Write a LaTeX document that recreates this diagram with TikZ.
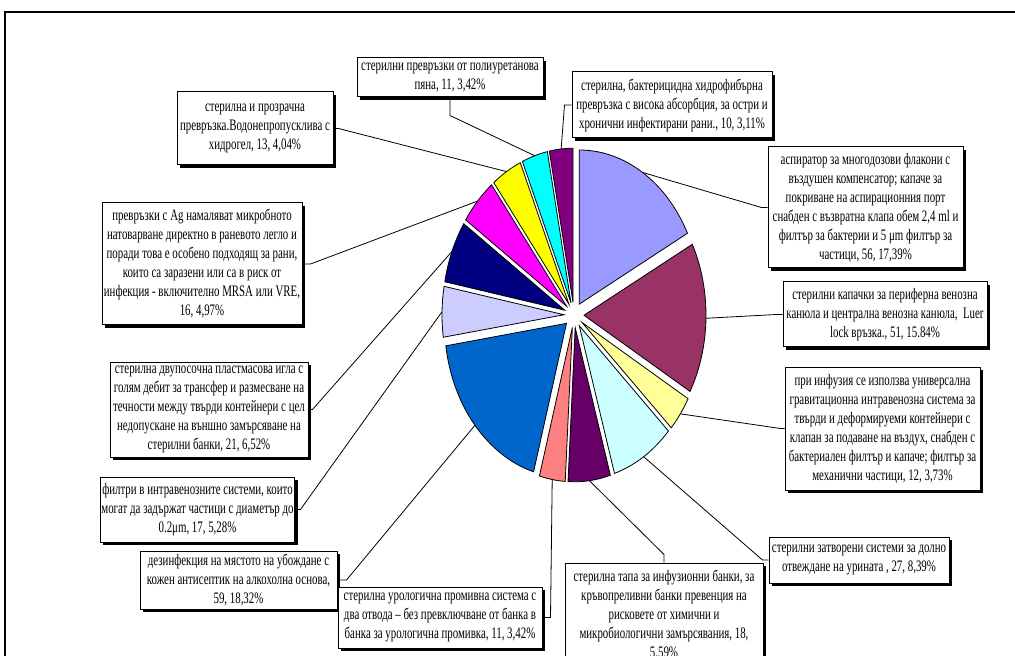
\documentclass[tikz,border=0pt]{standalone}
\usepackage{fontspec}
\newfontfamily\chartfont{Liberation Serif}[FakeStretch=0.68]
\usetikzlibrary{calc,shadows}

\definecolor{lilac}{HTML}{9999FF}
\definecolor{wine}{HTML}{993366}
\definecolor{cream}{HTML}{FFFF99}
\definecolor{ice}{HTML}{CCFFFF}
\definecolor{grape}{HTML}{660066}
\definecolor{salmon}{HTML}{FF8080}
\definecolor{ocean}{HTML}{0066CC}
\definecolor{pale}{HTML}{CCCCFF}
\definecolor{navyblue}{HTML}{000080}
\definecolor{pink}{HTML}{FF00FF}
\definecolor{lemon}{HTML}{FFFF00}
\definecolor{aqua}{HTML}{00FFFF}
\definecolor{plum}{HTML}{800080}

\newcommand{\drawslice}[4]{ % start angle, end angle, fill colour, id
  \pgfmathsetmacro{\midang}{(#1+#2)/2}
  \begin{scope}[shift={(\midang:10)}]
    \draw[slice, fill=#3] (0,0) -- (#1:122) arc[start angle=#1, end angle=#2, radius=122] -- cycle;
    % rim point where the leader line ends
    \coordinate (#4) at (\midang:122);
  \end{scope}
}

\newcommand{\drawlabel}[6]{ % centre_x, centre_y, width, height, id, text
  \node[lblbox, minimum width=#3*0.75pt, minimum height=#4*0.75pt] (#5) at (#1,#2) {#6};
}

\begin{document}
\begin{tikzpicture}[x=0.75pt, y=-0.75pt]

    % Styles for slices, label boxes and leader lines
    \tikzset{slice/.style={draw=black, line width=0.6pt}}
    \tikzset{lblbox/.style={draw=black, fill=white, line width=0.75pt, align=center, inner sep=1pt,
        font={\chartfont\fontsize{12}{14.25}\selectfont},
        drop shadow={shadow xshift=2.25pt, shadow yshift=-2.25pt, opacity=1, fill=black}}}
    \tikzset{leader/.style={draw=black, line width=0.6pt}}

    \useasboundingbox (0,0) rectangle (1015,656);
    \clip (0,0) rectangle (1015,656);

    % Chart frame
    \draw[line width=1.1pt] (5,12) rectangle (1040,690);

    % Exploded pie, clockwise from the top
    \begin{scope}[shift={(574,315)}, yscale=-1.264]
    \drawslice{90}{27.391}{lilac}{aspir_pt}
    \drawslice{27.391}{-29.627}{wine}{caps_pt}
    \drawslice{-29.627}{-43.043}{cream}{infus_pt}
    \drawslice{-43.043}{-73.230}{ice}{closed_pt}
    \drawslice{-73.230}{-93.354}{grape}{stopper_pt}
    \drawslice{-93.354}{-105.652}{salmon}{uro_pt}
    \drawslice{-105.652}{-171.615}{ocean}{disinf_pt}
    \drawslice{-171.615}{-190.621}{pale}{filter_pt}
    \drawslice{-190.621}{-214.099}{navyblue}{needle_pt}
    \drawslice{-214.099}{-231.988}{pink}{silver_pt}
    \drawslice{-231.988}{-246.522}{lemon}{gel_pt}
    \drawslice{-246.522}{-258.820}{aqua}{foam_pt}
    \drawslice{-258.820}{-270}{plum}{fiber_pt}
    \end{scope}

    % Label boxes
    \drawlabel{450}{77.5}{186}{39}{foam}{стерилни превръзки от полиуретанова\\пяна, 11, 3,42\%}
    \drawlabel{672}{105}{200}{66}{fiber}{стерилна, бактерицидна хидрофибърна\\превръзка с висока абсорбция, за остри и\\хронични инфектирани рани., 10, 3,11\%}
    \drawlabel{255}{128.5}{156}{73}{gel}{стерилна и прозрачна\\превръзка.Водонепропусклива с\\хидрогел, 13, 4,04\%}
    \drawlabel{865.5}{207.5}{195}{121}{aspir}{аспиратор за многодозови флакони с\\въздушен компенсатор; капаче за\\покриване на аспирационния порт\\снабден с възвратна клапа обем 2,4 ml и\\филтър за бактерии и 5 μm филтър за\\частици, 56, 17,39\%}
    \drawlabel{202}{264}{200}{122}{silver}{превръзки с Ag намаляват микробното\\натоварване директно в раневото легло и\\поради това е особено подходящ за рани,\\които са заразени или са в риск от\\инфекция - включително MRSA или VRE,\\16, 4,97\%}
    \drawlabel{885}{314.5}{204}{65}{caps}{стерилни капачки за периферна венозна\\канюла и централна венозна канюла, \ Luer\\lock връзка., 51, 15.84\%}
    \drawlabel{209}{409.5}{198}{95}{needle}{стерилна двупосочна пластмасова игла с\\голям дебит за трансфер и размесване на\\течности между твърди контейнери с цел\\недопускане на външно замърсяване на\\стерилни банки, 21, 6,52\%}
    \drawlabel{882.5}{428.5}{195}{123}{infus}{при инфузия се използва универсална\\гравитационна интравенозна система за\\твърди и деформируеми контейнери с\\клапан за подаване на въздух, снабден с\\бактериален филтър и капаче; филтър за\\механични частици, 12, 3,73\%}
    \drawlabel{197.5}{509.5}{171}{65}{filter}{филтри в интравенозните системи, които\\могат да задържат частици с диаметър до\\0.2μm, 17, 5,28\%}
    \drawlabel{859}{560}{180}{46}{closed}{стерилни затворени системи за долно\\отвеждане на урината , 27, 8,39\%}
    \drawlabel{238.5}{580}{197}{58}{disinf}{дезинфекция на мястото на убождане с\\кожен антисептик на алкохолна основа,\\59, 18,32\%}
    \drawlabel{440}{617.5}{204}{61}{uro}{стерилна урологична промивна система с\\два отвода – без превключване от банка в\\банка за урологична промивка, 11, 3,42\%}
    \drawlabel{664}{615}{198}{104}{stopper}{стерилна тапа за инфузионни банки, за\\кръвопреливни банки превенция на\\рисковете от химични и\\микробиологични замърсявания, 18,\\5,59\%}

    % Leader lines from the boxes to the slices
    \draw[leader] (foam.south) -- ++(0,18) -- (foam_pt);
    \draw[leader] (fiber.west) -- ++(-7,0) -- (fiber_pt);
    \draw[leader] (gel.east) -- ++(5,0) -- (gel_pt);
    \draw[leader] (aspir.west) -- ++(-6,0) -- (aspir_pt);
    \draw[leader] (silver.east) -- ++(8,0) -- (silver_pt);
    \draw[leader] (caps.west) -- ++(-6,0) -- (caps_pt);
    \draw[leader] (needle.east) -- ++(4,0) -- (needle_pt);
    \draw[leader] (infus.west) -- ++(-4,0) -- (infus_pt);
    \draw[leader] (filter.east) -- ++(5,0) -- (filter_pt);
    \draw[leader] (closed.west) -- ++(-6,0) -- (closed_pt);
    \draw[leader] (disinf.east) -- ++(9,0) -- (disinf_pt);
    \draw[leader] (uro.east) -- ++(8,0) -- (uro_pt);
    \draw[leader] (stopper.north) -- ++(0,-8) -- (stopper_pt);

\end{tikzpicture}
\end{document}
